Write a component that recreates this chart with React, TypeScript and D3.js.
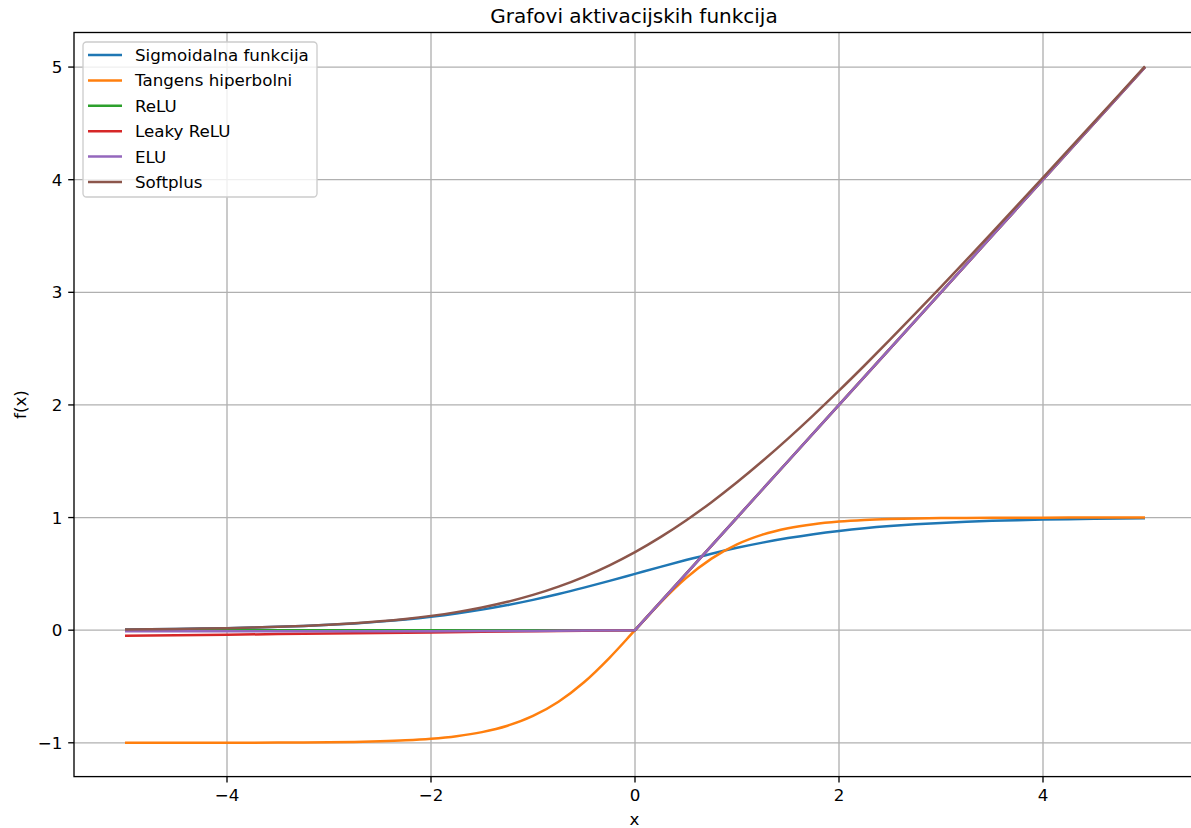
import React from "react";
import * as d3 from "d3";

// x positions of the sampled points
const xsFine = [-5, -4.75, -4.5, -4.25, -4, -3.75, -3.5, -3.25, -3, -2.75, -2.5, -2.25, -2, -1.75, -1.5, -1.25, -1, -0.75, -0.5, -0.25, 0, 0.25, 0.5, 0.75, 1, 1.25, 1.5, 1.75, 2, 2.25, 2.5, 2.75, 3, 3.25, 3.5, 3.75, 4, 4.25, 4.5, 4.75, 5];
const xsCoarse = [-5, -4.5, -4, -3.5, -3, -2.5, -2, -1.5, -1, -0.5, 0, 0.5, 1, 1.5, 2, 2.5, 3, 3.5, 4, 4.5, 5];

const sigmoid = [0.0067, 0.0086, 0.011, 0.0141, 0.018, 0.023, 0.0293, 0.0373, 0.0474, 0.0601, 0.0759, 0.0953, 0.1192, 0.148, 0.1824, 0.2227, 0.2689, 0.3208, 0.3775, 0.4378, 0.5, 0.5622, 0.6225, 0.6792, 0.7311, 0.7773, 0.8176, 0.852, 0.8808, 0.9047, 0.9241, 0.9399, 0.9526, 0.9627, 0.9707, 0.977, 0.982, 0.9859, 0.989, 0.9914, 0.9933];
const tanhVals = [-0.9999, -0.9998, -0.9998, -0.9996, -0.9993, -0.9989, -0.9982, -0.997, -0.9951, -0.9919, -0.9866, -0.978, -0.964, -0.9414, -0.9051, -0.8483, -0.7616, -0.6351, -0.4621, -0.2449, 0, 0.2449, 0.4621, 0.6351, 0.7616, 0.8483, 0.9051, 0.9414, 0.964, 0.978, 0.9866, 0.9919, 0.9951, 0.997, 0.9982, 0.9989, 0.9993, 0.9996, 0.9998, 0.9998, 0.9999];
const relu = [0, 0, 0, 0, 0, 0, 0, 0, 0, 0, 0, 0.5, 1, 1.5, 2, 2.5, 3, 3.5, 4, 4.5, 5];
const leakyRelu = [-0.05, -0.045, -0.04, -0.035, -0.03, -0.025, -0.02, -0.015, -0.01, -0.005, 0, 0.5, 1, 1.5, 2, 2.5, 3, 3.5, 4, 4.5, 5];
const elu = [-0.0099, -0.0099, -0.0098, -0.0097, -0.0095, -0.0092, -0.0086, -0.0078, -0.0063, -0.0039, 0, 0.5, 1, 1.5, 2, 2.5, 3, 3.5, 4, 4.5, 5];
const softplus = [0.0067, 0.0086, 0.011, 0.0142, 0.0181, 0.0232, 0.0298, 0.038, 0.0486, 0.062, 0.0789, 0.1002, 0.1269, 0.1602, 0.2014, 0.2519, 0.3133, 0.3869, 0.4741, 0.5761, 0.6931, 0.8261, 0.9741, 1.1369, 1.3133, 1.5019, 1.7014, 1.9102, 2.1269, 2.3502, 2.5789, 2.812, 3.0486, 3.288, 3.5298, 3.7733, 4.0181, 4.2642, 4.511, 4.7586, 5.0067];

const seriesNames = ["Sigmoidalna funkcija", "Tangens hiperbolni", "ReLU", "Leaky ReLU", "ELU", "Softplus"];
const seriesValues = [sigmoid, tanhVals, relu, leakyRelu, elu, softplus];
const seriesX = [xsFine, xsFine, xsCoarse, xsCoarse, xsCoarse, xsFine];
const seriesSmooth = [true, true, false, false, false, true];
const colors = ["#1f77b4", "#ff7f0e", "#2ca02c", "#d62728", "#9467bd", "#8c564b"];

const xTicks = [-4, -2, 0, 2, 4];
const yTicks = [-1, 0, 1, 2, 3, 4, 5];

const title = "Grafovi aktivacijskih funkcija";
const xLabel = "x";
const yLabel = "f(x)";

const W = 1191;
const H = 828;
const left = 74;
const right = 1196;
const top = 32.5;
const bottom = 776.6;
const FONT = "DejaVu Sans, sans-serif";
const FS = 16.7;

const fmt = (v: number) => (v < 0 ? "\u2212" + Math.abs(v) : String(v));

export default function App() {
  const x = d3.scaleLinear().domain([-5.5, 5.5]).range([left, right]);
  const y = d3.scaleLinear().domain([-1.3002, 5.307]).range([bottom, top]);

  const makeLine = (xv: number[], smooth: boolean) =>
    d3
      .line<number>()
      .x((_, i) => x(xv[i]))
      .y((d) => y(d))
      .curve(smooth ? d3.curveMonotoneX : d3.curveLinear);

  const legX = 83;
  const legY = 42;
  const legW = 234;
  const legH = 155;

  return (
    <svg
      width={W}
      height={H}
      style={{ position: "absolute", left: 0, top: 0, background: "#fff" }}
      fontFamily={FONT}
    >
      <rect x={0} y={0} width={W} height={H} fill="#fff" />
      {xTicks.map((t) => (
        <line key={"gx" + t} x1={x(t)} x2={x(t)} y1={top} y2={bottom} stroke="#b0b0b0" strokeWidth={1.33} />
      ))}
      {yTicks.map((t) => (
        <line key={"gy" + t} x1={left} x2={right} y1={y(t)} y2={y(t)} stroke="#b0b0b0" strokeWidth={1.33} />
      ))}
      {seriesValues.map((vals, i) => (
        <path
          key={"s" + i}
          d={makeLine(seriesX[i], seriesSmooth[i])(vals) || ""}
          fill="none"
          stroke={colors[i]}
          strokeWidth={2.5}
          strokeLinejoin="round"
          strokeLinecap="butt"
        />
      ))}
      <rect x={left} y={top} width={right - left} height={bottom - top} fill="none" stroke="#000" strokeWidth={1.33} />
      {xTicks.map((t) => (
        <g key={"xt" + t}>
          <line x1={x(t)} x2={x(t)} y1={bottom} y2={bottom + 5.8} stroke="#000" strokeWidth={1.33} />
          <text x={x(t)} y={bottom + 24} textAnchor="middle" fontSize={FS} fill="#000">
            {fmt(t)}
          </text>
        </g>
      ))}
      {yTicks.map((t) => (
        <g key={"yt" + t}>
          <line x1={left - 5.8} x2={left} y1={y(t)} y2={y(t)} stroke="#000" strokeWidth={1.33} />
          <text x={left - 11.7} y={y(t) + 6} textAnchor="end" fontSize={FS} fill="#000">
            {fmt(t)}
          </text>
        </g>
      ))}
      <text x={(left + right) / 2 - 0.5} y={824.5} textAnchor="middle" fontSize={FS} fill="#000">
        {xLabel}
      </text>
      <text
        transform={`translate(26, ${(top + bottom) / 2}) rotate(-90)`}
        textAnchor="middle"
        fontSize={FS}
        fill="#000"
      >
        {yLabel}
      </text>
      <text x={634} y={23} textAnchor="middle" fontSize={20} fill="#000">
        {title}
      </text>
      <rect x={legX} y={legY} width={legW} height={legH} rx={3.5} ry={3.5} fill="#fff" fillOpacity={0.8} stroke="#cccccc" strokeWidth={1.33} />
      {seriesNames.map((name, i) => {
        const cy = 55 + i * 25.4;
        return (
          <g key={"lg" + i}>
            <line x1={88} x2={122} y1={cy} y2={cy} stroke={colors[i]} strokeWidth={2.5} />
            <text x={135} y={cy + 6} fontSize={FS} fill="#000">
              {name}
            </text>
          </g>
        );
      })}
    </svg>
  );
}
